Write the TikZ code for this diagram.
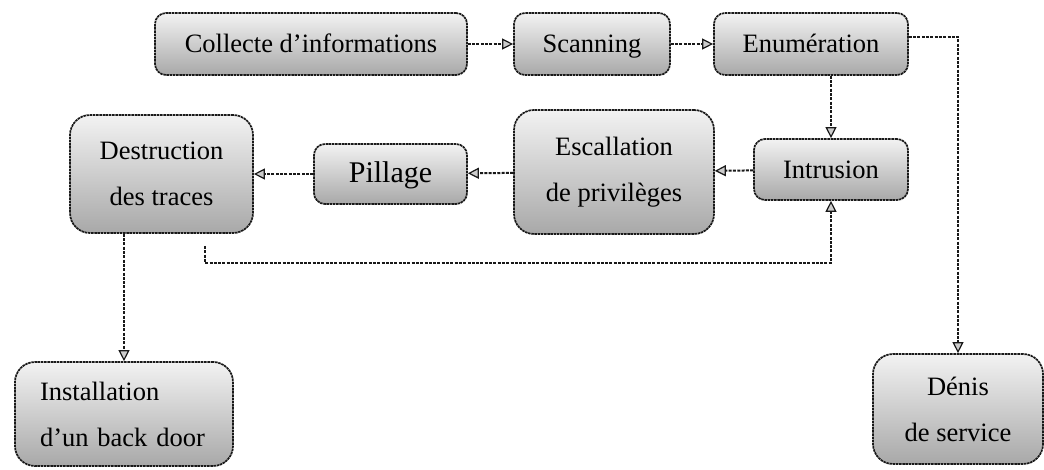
\documentclass[tikz,border=0pt]{standalone}
\usepackage{fontspec}
\setmainfont{Liberation Serif}
\usetikzlibrary{arrows.meta}

\tikzset{
  stage/.style={
    draw=black!90, line width=1.7pt, dash pattern=on 2.5pt off 0.7pt,
    rounded corners=11pt, top color=gray!10, bottom color=gray!68,
    inner sep=0pt, align=center, text=black,
    font={\fontsize{26.5}{46}\selectfont}
  },
  oneline/.style={stage, text height=24pt, text depth=6pt},
  bigstage/.style={stage, rounded corners=20pt},
  flow/.style={
    draw=black!90, line width=2pt, dash pattern=on 3pt off 1.3pt,
    -{Triangle[open, length=11pt, width=11pt, line width=1.2pt, fill=gray!40]}
  }
}

\begin{document}
\begin{tikzpicture}[x=1pt, y=-1pt]
  \useasboundingbox (0,0) rectangle (1044,470);

  % top row
  \node[oneline, minimum width=312, minimum height=62] (collecte) at (311,44) {Collecte d'informations};
  \node[oneline, minimum width=156, minimum height=62] (scan) at (592,44) {Scanning};
  \node[oneline, minimum width=194, minimum height=62] (enum) at (811,44) {Enumération};

  % middle row
  \node[oneline, minimum width=154, minimum height=61] (intrusion) at (831,169.5) {Intrusion};
  \node[bigstage, minimum width=200, minimum height=124] (escal) at (614,172) {Escallation\\de privilèges};
  \node[oneline, minimum width=153, minimum height=60, font={\fontsize{30}{46}\selectfont}] (pillage) at (390.5,174) {Pillage};
  \node[bigstage, minimum width=183, minimum height=118] (destruction) at (161.5,174) {Destruction\\des traces};

  % bottom row
  \node[bigstage, minimum width=218, minimum height=104, align=left, text width=168] (backdoor) at (124,414) {Installation\\d'un back door};
  \node[bigstage, minimum width=170, minimum height=110] (denis) at (958,409) {Dénis\\de service};

  % start of the loop back to the intrusion step
  \coordinate (loop) at (205,246);

  % connectors
  \draw[flow] (collecte) -- (scan);
  \draw[flow] (scan) -- (enum);
  \draw[flow] (intrusion.north |- enum.south) -- (intrusion.north);
  \draw[flow] (intrusion) -- (escal);
  \draw[flow] (escal) -- (pillage);
  \draw[flow] (pillage) -- (destruction);
  \draw[flow] (backdoor.north |- destruction.south) -- (backdoor.north);
  \draw[flow] (loop) |- (831,263) -- (intrusion.south);
  \draw[flow] ([yshift=7pt]enum.east) -| (denis.north);
\end{tikzpicture}
\end{document}
